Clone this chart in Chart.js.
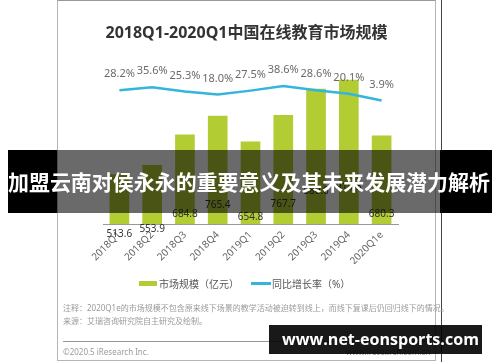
<!DOCTYPE html>
<html>
<head>
<meta charset="utf-8">
<script src="https://cdn.jsdelivr.net/npm/chart.js@4/dist/chart.umd.min.js"></script>
<style>
  html,body{margin:0;padding:0;background:#fff;}
  body{width:500px;height:362px;position:relative;overflow:hidden;font-family:"Noto Sans","Noto Sans CJK SC",sans-serif;}
  #c{position:absolute;left:0;top:0;}
  .abs{position:absolute;white-space:nowrap;}
  #frame{position:absolute;left:57px;top:0;width:377px;height:359px;border:1px solid #b5b5b5;border-top-color:#999;}
  #vline{position:absolute;left:441px;top:0;width:1px;height:362px;background:#444;}
  #title{left:57px;width:379px;top:19px;text-align:center;font-size:16px;font-weight:bold;color:#333;}
  .leg{font-size:10px;color:#555;top:276px;}
  .note{font-size:8px;color:#9a9a9a;left:63px;}
  #sep{position:absolute;left:63px;top:341px;width:368px;height:1px;background:#999;}
  .banner{position:absolute;top:150px;height:63px;}
  #btext{left:8px;top:166px;font-size:21px;font-weight:bold;color:#fff;font-family:"Noto Sans CJK SC",sans-serif;line-height:30px;}
  #wm{position:absolute;left:269px;top:325px;width:213px;height:29px;background:rgba(0,0,0,0.9);}
  #wmtext{left:282px;top:326px;font-size:19px;font-weight:bold;color:#fff;font-family:"Open Sans","Noto Sans",sans-serif;line-height:26px;}
</style>
</head>
<body>
<div id="frame"></div>
<div id="vline"></div>
<canvas id="c" width="500" height="362"></canvas>
<div class="abs" id="title">2018Q1-2020Q1中国在线教育市场规模</div>
<div class="abs" style="left:139px;top:281px;width:18px;height:5px;background:#b2cc34;"></div>
<div class="abs leg" style="left:159px;">市场规模（亿元）</div>
<div class="abs" style="left:251px;top:282px;width:20px;height:3px;background:#35b4dc;"></div>
<div class="abs leg" style="left:272px;">同比增长率（%）</div>
<div class="abs note" style="top:302px;">注释：2020Q1e的市场规模不包含原来线下场景的教学活动被迫转到线上，而线下复课后仍回归线下的情况。</div>
<div class="abs note" style="top:315px;">来源：艾瑞咨询研究院自主研究及绘制。</div>
<div id="sep"></div>
<div class="abs note" style="top:346px;">©2020.5 iResearch Inc.</div>
<div class="abs note" style="top:346px;left:346px;">www.iresearch.com.cn</div>
<div class="banner" style="left:8px;width:49px;background:#000;"></div>
<div class="banner" style="left:57px;width:383px;background:rgba(0,0,0,0.585);"></div>
<div class="banner" style="left:440px;width:52px;background:#000;"></div>
<div class="abs" id="btext">加盟云南对侯永永的重要意义及其未来发展潜力解析</div>
<div id="wm"></div>
<div class="abs" id="wmtext">www.net-eonsports.com</div>
<script>
const categories = ['2018Q1','2018Q2','2018Q3','2018Q4','2019Q1','2019Q2','2019Q3','2019Q4','2020Q1e'];
const marketSize = [513.6, 553.9, 684.8, 765.4, 654.8, 767.7, 880.6, 919.3, 680.3];
const growthRate = [28.2, 35.6, 25.3, 18.0, 27.5, 38.6, 28.6, 20.1, 3.9];

function fitWidth(id, target) {
  const el = document.getElementById(id);
  const w = el.getBoundingClientRect().width;
  const fs = parseFloat(getComputedStyle(el).fontSize);
  el.style.fontSize = (fs * target / w).toFixed(2) + 'px';
}
fitWidth('btext', 482);
fitWidth('wmtext', 197);

const labelPlugin = {
  id: 'valueLabels',
  afterDatasetsDraw(chart) {
    const ctx = chart.ctx;
    ctx.save();
    ctx.textAlign = 'center';
    ctx.textBaseline = 'middle';
    const lineMeta = chart.getDatasetMeta(0);
    ctx.font = '11px "Noto Sans","Noto Sans CJK SC",sans-serif';
    ctx.fillStyle = '#6a6a6a';
    lineMeta.data.forEach((el, i) => {
      ctx.fillText(growthRate[i].toFixed(1) + '%', el.x, el.y - 16);
    });
    const barMeta = chart.getDatasetMeta(1);
    ctx.font = '10px "Noto Sans",sans-serif';
    ctx.fillStyle = '#333';
    barMeta.data.forEach((el, i) => {
      ctx.fillText(marketSize[i].toFixed(1), el.x, (el.y + el.base) / 2);
    });
    ctx.restore();
  }
};

new Chart(document.getElementById('c'), {
  data: {
    labels: categories,
    datasets: [
      {
        type: 'line',
        label: '同比增长率（%）',
        data: growthRate,
        yAxisID: 'y1',
        borderColor: '#35b4dc',
        borderWidth: 2.5,
        pointRadius: 0,
        tension: 0,
        fill: false
      },
      {
        type: 'bar',
        label: '市场规模（亿元）',
        data: marketSize,
        yAxisID: 'y',
        backgroundColor: '#b2cc34',
        barPercentage: 0.6,
        categoryPercentage: 1
      }
    ]
  },
  options: {
    responsive: false,
    animation: false,
    layout: { padding: { left: 103, right: 102, top: 61, bottom: 98 } },
    plugins: { legend: { display: false }, tooltip: { enabled: false }, title: { display: false } },
    scales: {
      x: {
        grid: { display: false, drawTicks: false },
        border: { display: true, color: '#999', width: 1 },
        ticks: { color: '#666', font: { size: 10, family: '"Noto Sans",sans-serif' }, minRotation: 45, maxRotation: 45, padding: 5 },
        afterFit(s) { s.height = 40; }
      },
      y: { display: false, min: 300, max: 1000 },
      y1: { display: false, min: -290, max: 98 }
    }
  },
  plugins: [labelPlugin]
});
</script>
</body>
</html>
